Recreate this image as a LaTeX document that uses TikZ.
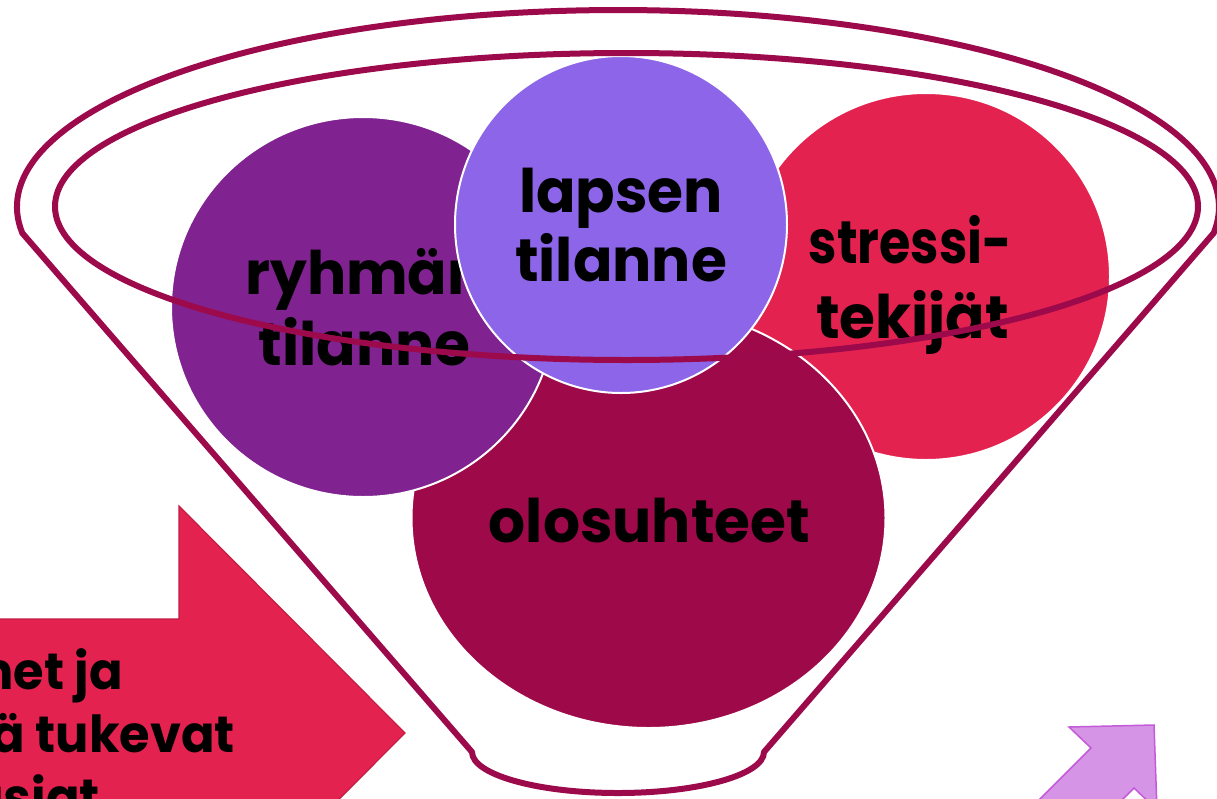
\documentclass[tikz,border=0pt]{standalone}
\usepackage{fontspec}
\setmainfont{Poppins}[FakeStretch=0.97]
\definecolor{funnelc}{RGB}{156,10,76}
\definecolor{ryhmc}{RGB}{128,34,144}
\definecolor{lapsc}{RGB}{140,101,232}
\definecolor{stressc}{RGB}{228,34,80}
\definecolor{oloc}{RGB}{158,9,74}
\definecolor{redborder}{RGB}{196,28,66}
\definecolor{pinkfill}{RGB}{214,148,230}
\definecolor{pinkborder}{RGB}{195,91,217}
\tikzset{
  bubble/.style={draw=white, line width=2pt},
  funnelline/.style={draw=funnelc, line width=6pt, line join=round},
  lbl/.style={font=\bfseries\fontsize{60}{69}\selectfont, inner sep=0pt, anchor=base, text=black},
  arrtxt/.style={font=\bfseries\fontsize{51}{63}\selectfont, inner sep=0pt, anchor=base east, text=black}
}
\begin{document}
\begin{tikzpicture}[x=1pt,y=-1pt]
\useasboundingbox (0,0) rectangle (1217,798);
\clip (0,0) rectangle (1217,798);
\fill[white] (0,0) rectangle (1217,798);
% circles
\filldraw[bubble, fill=stressc] (926,276.5) ellipse [x radius=184, y radius=183.5];
\filldraw[bubble, fill=oloc] (648.5,518) ellipse [x radius=237, y radius=210];
\filldraw[bubble, fill=ryhmc] (363,307) ellipse [x radius=192, y radius=190];
\node[lbl] (ry1) at (366,294) {ryhmän};
\node[lbl] (ry2) at (364.5,365) {tilanne};
\filldraw[bubble, fill=lapsc] (621,224.5) ellipse [x radius=166, y radius=168.5];
\node[lbl] (la1) at (621,212) {lapsen};
\node[lbl] (la2) at (621,281) {tilanne};
\node[lbl] (st1) at (910.5,263) {\scalebox{0.875}[1]{stressi-}};
\node[lbl] (st2) at (912.5,338) {tekijät};
\node[lbl] (olo) at (649.5,542) {olosuhteet};
% funnel
\draw[funnelline] (22.3,233.06) arc[start angle=172.4, end angle=367.6, x radius=601, y radius=197]
  -- (764,752) arc[start angle=0, end angle=180, x radius=146, y radius=41] -- cycle;
\draw[funnelline] (626.5,206.5) ellipse [x radius=571.5, y radius=153.5];
% red arrow
\filldraw[fill=stressc, draw=redborder, line width=1.2pt]
  (-60,619) -- (179,619) -- (179,506) -- (405,733) -- (179,960) -- (179,847) -- (-60,847) -- cycle;
\node[arrtxt] (ar1) at (123,689) {het ja};
\node[arrtxt] (ar2) at (235,752) {ä tukevat};
\node[arrtxt] (ar3) at (100,815) {asiat};
% purple arrow
\filldraw[fill=pinkfill, draw=pinkborder, line width=1.5pt]
  (1154,725) -- (1069,727) -- (1091,748) -- (990,849) -- (1033,889) -- (1134,788) -- (1157,810) -- cycle;
\end{tikzpicture}
\end{document}
